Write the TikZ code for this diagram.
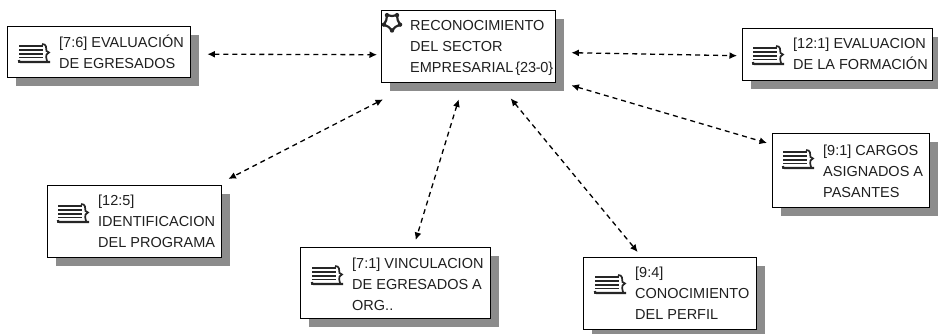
\documentclass[tikz,border=0pt]{standalone}
\usepackage{fontspec}
\setmainfont{Liberation Sans}
\usetikzlibrary{arrows.meta,shadows}
\newcommand{\tlines}[1]{\begin{tabular}[t]{@{}l@{}}#1\end{tabular}}
\begin{document}
\begin{tikzpicture}[x=1pt,y=-1pt,
  boxnode/.style={draw=black, line width=1.4pt, fill=white, anchor=north west, inner sep=0pt,
    drop shadow={shadow xshift=8pt, shadow yshift=-8pt, fill=black!45, opacity=1}},
  txtnode/.style={anchor=base west, inner sep=0pt, font=\fontsize{14.5}{21}\selectfont, text=black!88},
  conn/.style={line width=1.3pt, dash pattern=on 5pt off 4pt, {Latex[length=7.5pt,width=7pt]}-{Latex[length=7.5pt,width=7pt]}},
  docicon/.pic={
    \draw[line width=1.6pt, black!85] (0,3)--(24,3) (0,7)--(24,7) (0,11)--(24,11) (0,14.5)--(24,14.5);
    \draw[line width=1.7pt, black!85] (23,1) .. controls (28,1) and (27,5) .. (27.5,8) .. controls (28,9) .. (30,9.5)
      .. controls (28,10) .. (27.5,11.5) .. controls (27,14) .. (28,18);
    \draw[line width=2.2pt, black!85] (0,17) .. controls (0,19) .. (2,19) -- (31,19);
  },
  staricon/.pic={
    \draw[line width=2.2pt, black!85, line join=round]
      (90:8.5) -- (126:6) -- (162:8.5) -- (198:6) -- (234:8.5) -- (270:6) -- (306:8.5) -- (342:6) -- (18:8.5) -- (54:6) -- cycle;
    \foreach \a in {90,162,234,306,18} \fill[black!85] (\a:8.5) circle (2.2pt);
  }]
\useasboundingbox (0,0) rectangle (938,333);

% boxes
\node[boxnode, minimum width=183pt, minimum height=51pt] (b1) at (7,26) {};
\node[boxnode, minimum width=174pt, minimum height=72pt] (ctr) at (381,10) {};
\node[boxnode, minimum width=190pt, minimum height=52pt] (b2) at (742,28) {};
\node[boxnode, minimum width=157pt, minimum height=74pt] (b3) at (772,133) {};
\node[boxnode, minimum width=174pt, minimum height=72pt] (b4) at (47,185) {};
\node[boxnode, minimum width=190pt, minimum height=71pt] (b5) at (300,247) {};
\node[boxnode, minimum width=173pt, minimum height=72pt] (b6) at (583,257) {};

% icons
\pic at (19,43) {docicon};
\pic at (392,22) {staricon};
\pic at (753,45) {docicon};
\pic at (783,149) {docicon};
\pic at (58,203) {docicon};
\pic at (312,265) {docicon};
\pic at (595,274) {docicon};

% texts
\node[txtnode] (t1) at (59,47) {\tlines{[7:6] EVALUACIÓN\\DE EGRESADOS}};
\node[txtnode] (tc) at (410,30) {\tlines{RECONOCIMIENTO\\DEL SECTOR\\EMPRESARIAL\kern2pt\{23\kern-0.4pt-\kern-0.4pt0\}}};
\node[txtnode] (t2) at (793,48) {\tlines{[12:1] EVALUACION\\DE LA FORMACIÓN}};
\node[txtnode] (t3) at (823,155) {\tlines{[9:1] CARGOS\\ASIGNADOS A\\PASANTES}};
\node[txtnode] (t4) at (98,205) {\tlines{[12:5]\\IDENTIFICACION\\DEL PROGRAMA}};
\node[txtnode] (t5) at (352,268) {\tlines{[7:1] VINCULACION\\DE EGRESADOS A\\ORG..}};
\node[txtnode] (t6) at (635,277) {\tlines{[9:4]\\CONOCIMIENTO\\DEL PERFIL}};

% connectors
\draw[conn] ([shift={(16,2)}]b1.east) -- ([shift={(-4,8)}]ctr.west);
\draw[conn] ([shift={(15,6)}]ctr.east) -- ([shift={(-5,1)}]b2.west);
\draw[conn] ([shift={(15,2)}]ctr.south east) -- ([shift={(-5,10)}]b3.north west);
\draw[conn] ([shift={(2,16)}]ctr.south west) -- ([shift={(6,-6)}]b4.north east);
\draw[conn] ([shift={(-10,16)}]ctr.south) -- ([shift={(20,-7)}]b5.north);
\draw[conn] ([shift={(42,15)}]ctr.south) -- ([shift={(-32.5,-5)}]b6.north);
\end{tikzpicture}
\end{document}
